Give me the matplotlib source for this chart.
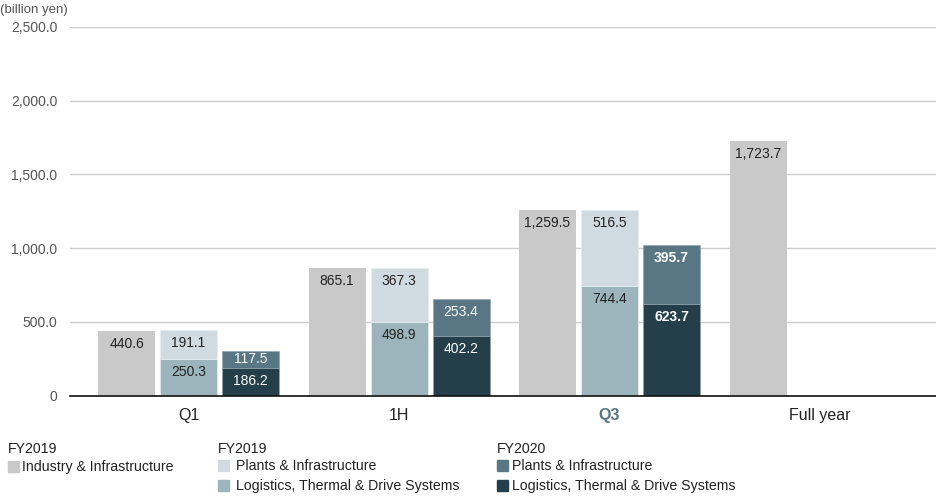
import matplotlib
matplotlib.use("Agg")
import matplotlib.pyplot as plt
from matplotlib.patches import Rectangle

categories = ["Q1", "1H", "Q3", "Full year"]
fy2019_industry = [440.6, 865.1, 1259.5, 1723.7]
fy2019_logistics = [250.3, 498.9, 744.4]
fy2019_plants = [191.1, 367.3, 516.5]
fy2020_logistics = [186.2, 402.2, 623.7]
fy2020_plants = [117.5, 253.4, 395.7]
yticks = [0, 500, 1000, 1500, 2000, 2500]
ytick_labels = ["0", "500.0", "1,000.0", "1,500.0", "2,000.0", "2,500.0"]

C_GRAY = "#c9c9c9"
C_LIGHT = "#cfdbe0"
C_MID = "#9cb4bb"
C_P20 = "#587683"
C_DARK = "#243e4a"

REG = ["Liberation Sans", "DejaVu Sans"]

W, H = 936, 500
fig = plt.figure(figsize=(W / 100, H / 100), dpi=100)
ax_left, ax_right = 70, 936
y0_px, ytop_px = 395.5, 27.0
ax = fig.add_axes([ax_left / W, 1 - y0_px / H, (ax_right - ax_left) / W, (y0_px - ytop_px) / H])

unit = 210.5  # px per category
c0 = 188.5
ax.set_xlim((ax_left - c0) / unit, (ax_right - c0) / unit)
ax.set_ylim(0, 2500)
px_per_val = (y0_px - ytop_px) / 2500

off = 62 / unit
bw = 57 / unit

def label(x, bottom, val, color, bold=False, fs=10):
    top = bottom + val
    hpx = val * px_per_val
    d = min(13.0, hpx / 2)
    txt = f"{val:,.1f}"
    ax.annotate(txt, (x, top), xytext=(0, -d * 0.72), textcoords="offset points",
                ha="center", va="center", color=color, fontsize=fs,
                fontweight="bold" if bold else "normal", family=REG)

n = len(categories)
for i in range(n):
    x = i - off
    ax.bar(x, fy2019_industry[i], width=bw, color=C_GRAY, zorder=3)
    label(x, 0, fy2019_industry[i], "#222222")

for i in range(len(fy2019_logistics)):
    x = i
    ax.bar(x, fy2019_logistics[i], width=bw, color=C_MID, zorder=3, edgecolor="#e8eef0", linewidth=0.5)
    ax.bar(x, fy2019_plants[i], bottom=fy2019_logistics[i], width=bw, color=C_LIGHT, zorder=3,
           edgecolor="#e8eef0", linewidth=0.5)
    label(x, 0, fy2019_logistics[i], "#222222")
    label(x, fy2019_logistics[i], fy2019_plants[i], "#222222")

for i in range(len(fy2020_logistics)):
    x = i + off
    bold = categories[i] == "Q3"
    ax.bar(x, fy2020_logistics[i], width=bw, color=C_DARK, zorder=3, edgecolor="#8fa3ab", linewidth=0.4)
    ax.bar(x, fy2020_plants[i], bottom=fy2020_logistics[i], width=bw, color=C_P20, zorder=3,
           edgecolor="#8fa3ab", linewidth=0.4)
    label(x, 0, fy2020_logistics[i], "white", bold)
    label(x, fy2020_logistics[i], fy2020_plants[i], "white", bold)

ax.set_yticks(yticks)
ax.set_yticklabels(ytick_labels, family=REG, fontsize=10, color="#555555")
ax.set_xticks(range(n))
ax.set_xticklabels(categories, family=REG, fontsize=11.5, color="#222222")
for t in ax.get_xticklabels():
    if t.get_text() == "Q3":
        t.set_fontweight("bold")
        t.set_color(C_P20)
ax.tick_params(axis="both", length=0)
ax.tick_params(axis="x", pad=9)
ax.tick_params(axis="y", pad=9)
ax.grid(axis="y", color="#cccccc", linewidth=1, zorder=0)
for s in ["top", "right", "left"]:
    ax.spines[s].set_visible(False)
ax.spines["bottom"].set_color("#111111")
ax.spines["bottom"].set_linewidth(1.2)
ax.spines["bottom"].set_zorder(4)

fig.text(0 / W, 1 - 10 / H, "(billion yen)", family=REG, fontsize=9.5, color="#555555",
         ha="left", va="center")

# legend
def sq(xpx, ypx, color):
    fig.patches.append(Rectangle((xpx / W, 1 - (ypx + 11) / H), 11 / W, 11 / H,
                                 transform=fig.transFigure, color=color, figure=fig))

def t(xpx, ypx, s):
    fig.text(xpx / W, 1 - ypx / H, s, family=REG, fontsize=10.2, color="#222222",
             ha="left", va="center")

t(8, 449, "FY2019")
sq(8, 461, C_GRAY)
t(22, 467, "Industry & Infrastructure")
t(218, 449, "FY2019")
sq(218, 460, C_LIGHT)
t(236, 466, "Plants & Infrastructure")
sq(218, 480, C_MID)
t(236, 486, "Logistics, Thermal & Drive Systems")
t(497, 449, "FY2020")
sq(497, 460, C_P20)
t(512, 466, "Plants & Infrastructure")
sq(497, 480, C_DARK)
t(512, 486, "Logistics, Thermal & Drive Systems")

fig.savefig("out.png", dpi=100)
